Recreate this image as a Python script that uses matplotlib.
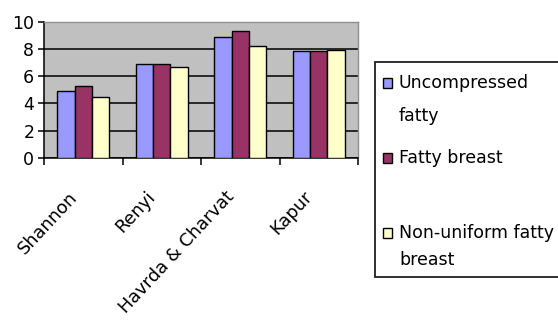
import matplotlib
matplotlib.use("Agg")
import matplotlib.pyplot as plt
import numpy as np
from matplotlib.patches import Rectangle
from matplotlib.transforms import ScaledTranslation

plt.rcParams['font.family'] = ['DejaVu Sans']

methods = ["Shannon", "Renyi", "Havrda & Charvat", "Kapur"]
series_names = ["Uncompressed\nfatty", "Fatty breast", "Non-uniform fatty\nbreast"]
uncompressed_fatty = [4.9, 6.9, 8.9, 7.85]
fatty_breast = [5.25, 6.9, 9.3, 7.85]
nonuniform_fatty_breast = [4.5, 6.7, 8.2, 7.9]
series_values = [uncompressed_fatty, fatty_breast, nonuniform_fatty_breast]
colors = ["#9999FF", "#993366", "#FFFFCC"]
y_ticks = [0, 2, 4, 6, 8, 10]

W, H = 558, 329
fig = plt.figure(figsize=(W / 100, H / 100), dpi=100)
ax = fig.add_axes([44 / W, 1 - 158 / H, (358 - 44) / W, (158 - 21.7) / H])
ax.set_facecolor("#C0C0C0")

x = np.arange(len(methods))
bw = 0.22
for i, (vals, c) in enumerate(zip(series_values, colors)):
    ax.bar(x + (i - 1) * bw, vals, width=bw, color=c, edgecolor="black",
           linewidth=1.0, zorder=3)

ax.set_xlim(-0.5, len(methods) - 0.5)
ax.set_ylim(0, 10)
ax.set_yticks(y_ticks)
ax.set_yticklabels([str(t) for t in y_ticks], fontsize=12.5)
ax.yaxis.grid(True, color="black", linewidth=1.1, zorder=1)
ax.set_axisbelow(True)

# category labels at centers, tick marks at category boundaries
ax.set_xticks(x)
ax.set_xticklabels(methods, rotation=47, ha="right", va="center",
                   rotation_mode="anchor", fontsize=12.8)
ax.tick_params(axis="x", which="major", length=0, pad=0)
shift = ScaledTranslation(-9 / 100, -36 / 100, fig.dpi_scale_trans)
for lbl in ax.get_xticklabels():
    lbl.set_transform(lbl.get_transform() + shift)
ax.set_xticks(np.arange(-0.5, len(methods)), minor=True)
ax.tick_params(axis="x", which="minor", length=5, width=1.1, direction="out")
ax.tick_params(axis="y", length=4, width=1.1, direction="out", pad=3)

for s in ("left", "bottom"):
    ax.spines[s].set_color("black")
    ax.spines[s].set_linewidth(1.1)
for s in ("top", "right"):
    ax.spines[s].set_color("#909090")
    ax.spines[s].set_linewidth(1.0)

# legend box drawn in figure pixels; it runs past the right edge
def fx(px):
    return px / W

def fy(py):
    return 1 - py / H

frame = Rectangle((fx(374.5), fy(276.5)), fx(575) - fx(374.5), fy(61.7) - fy(276.5),
                  transform=fig.transFigure, facecolor="white", edgecolor="#202020",
                  linewidth=1.3, clip_on=False)
fig.patches.append(frame)

entry_lines_y = [[83, 116], [158], [233, 260]]
for name, c, ys in zip(series_names, colors, entry_lines_y):
    fig.patches.append(Rectangle((fx(383), fy(ys[0] + 5)), fx(392) - fx(383),
                                 fy(ys[0] - 5) - fy(ys[0] + 5),
                                 transform=fig.transFigure, facecolor=c,
                                 edgecolor="black", linewidth=1.0))
    for line, yy in zip(name.split("\n"), ys):
        fig.text(fx(399), fy(yy), line, fontsize=12.5, ha="left", va="center")

fig.savefig("out.png", dpi=100)
